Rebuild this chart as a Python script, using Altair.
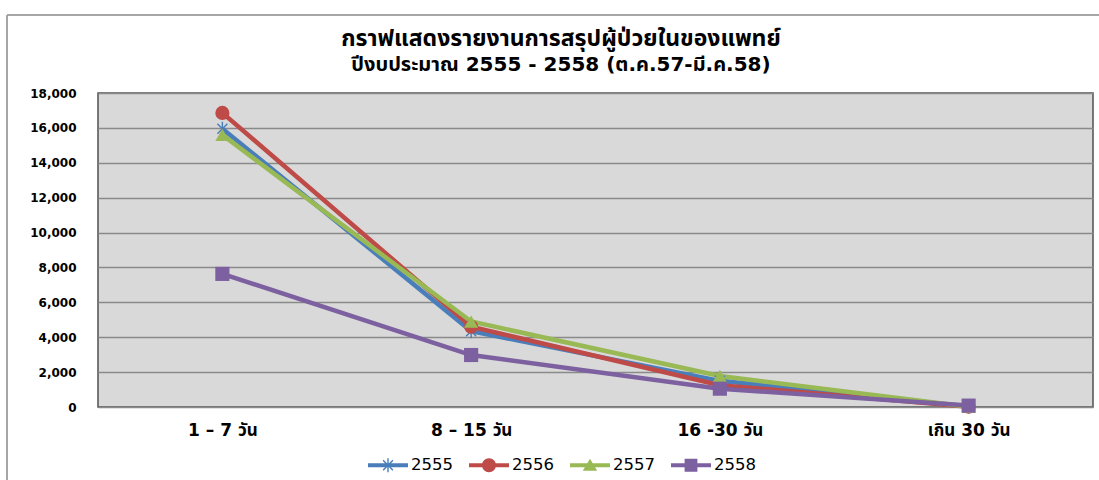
import altair as alt
import pandas as pd

# Patient stay categories (x axis) and the four fiscal-year series
categories = ["1 – 7 วัน", "8 – 15 วัน", "16 -30 วัน", "เกิน 30 วัน"]
years = ["2555", "2556", "2557", "2558"]
v2555 = [15950, 4350, 1500, 30]
v2556 = [16860, 4600, 1250, 20]
v2557 = [15600, 4900, 1780, 10]
v2558 = [7630, 2980, 1050, 80]
y_ticks = [0, 2000, 4000, 6000, 8000, 10000, 12000, 14000, 16000, 18000]

title_lines = [
    "กราฟแสดงรายงานการสรุปผู้ป่วยในของแพทย์",
    "ปีงบประมาณ 2555 - 2558 (ต.ค.57-มี.ค.58)",
]

colors = ["#4a7ebb", "#be4b48", "#98b954", "#7d60a0"]
FONT = "DejaVu Sans, Noto Sans Thai, Tahoma, sans-serif"

# marker shapes on the lines (unit square paths, scaled by size)
asterisk = (
    "M-0.1,-1H0.1V1H-0.1Z "
    "M-0.78,-0.64L-0.64,-0.78L0.78,0.64L0.64,0.78Z "
    "M0.64,-0.78L0.78,-0.64L-0.64,0.78L-0.78,0.64Z"
)
marker_shapes = [asterisk, "circle", "triangle-up", "square"]

# legend symbols: a line segment with the series marker in the middle
seg = "M-1,-0.1H1V0.1H-1Z "
seg_split = "M-1,-0.1H-0.3V0.1H-1Z M0.3,-0.1H1V0.1H0.3Z "
leg_asterisk = (
    seg
    + "M-0.035,-0.35H0.035V0.35H-0.035Z "
    + "M-0.27,-0.22L-0.22,-0.27L0.27,0.22L0.22,0.27Z "
    + "M0.22,-0.27L0.27,-0.22L-0.22,0.27L-0.27,0.22Z"
)
leg_circle = seg_split + "M0.35,0A0.35,0.35 0 1,1 -0.35,0A0.35,0.35 0 1,1 0.35,0Z"
leg_triangle = seg + "M0,-0.32L0.36,0.28H-0.36Z"
leg_square = seg_split + "M-0.32,-0.32H0.32V0.32H-0.32Z"
legend_shapes = [leg_asterisk, leg_circle, leg_triangle, leg_square]

rows = []
for yr, vals in zip(years, [v2555, v2556, v2557, v2558]):
    for c, v in zip(categories, vals):
        rows.append({"cat": c, "year": yr, "value": v})
df = pd.DataFrame(rows)

color_scale = alt.Scale(domain=years, range=colors)

base = alt.Chart(df).encode(
    x=alt.X(
        "cat:N",
        sort=categories,
        scale=alt.Scale(type="point", padding=0.5),
        axis=alt.Axis(
            title=None,
            labelAngle=0,
            labelFont=FONT,
            labelFontSize=17,
            labelFontWeight="bold",
            labelColor="black",
            labelPadding=15,
            ticks=False,
            domain=False,
        ),
    ),
    y=alt.Y(
        "value:Q",
        scale=alt.Scale(domain=[0, 18000], nice=False),
        axis=alt.Axis(
            title=None,
            values=y_ticks,
            format=",d",
            labelFont=FONT,
            labelFontSize=12,
            labelFontWeight="bold",
            labelColor="black",
            labelPadding=22,
            ticks=False,
            domain=False,
            gridColor="#8a8a8a",
            gridWidth=1.5,
        ),
    ),
)

lines = base.mark_line(strokeWidth=4.5).encode(
    color=alt.Color("year:N", scale=color_scale, legend=None),
    detail="year:N",
)

points = base.mark_point(filled=True, opacity=1, size=200).encode(
    color=alt.Color("year:N", scale=color_scale, legend=None),
    shape=alt.Shape(
        "year:N", scale=alt.Scale(domain=years, range=marker_shapes), legend=None
    ),
)

leg_props = dict(
    title=None,
    orient="none",
    legendX=270,
    legendY=352,
    direction="horizontal",
    columns=4,
    symbolSize=1600,
    symbolOpacity=1,
    symbolStrokeWidth=0,
    labelFont=FONT,
    labelFontSize=16.5,
    labelColor="black",
    labelOffset=3,
    columnPadding=16,
)

legend_layer = base.mark_point(filled=True, opacity=0).encode(
    color=alt.Color("year:N", scale=color_scale, legend=alt.Legend(**leg_props)),
    shape=alt.Shape(
        "year:N",
        scale=alt.Scale(domain=years, range=legend_shapes),
        legend=alt.Legend(**leg_props),
    ),
)

# thin frame around the whole chart (top and left edges)
frame_data = alt.Data(values=[{}])
frame_left = alt.Chart(frame_data).mark_rule(color="#a6a6a6", strokeWidth=2).encode(
    x=alt.value(-91), y=alt.value(-78), y2=alt.value(400)
)
frame_top = alt.Chart(frame_data).mark_rule(color="#a6a6a6", strokeWidth=2).encode(
    x=alt.value(-91), x2=alt.value(1010), y=alt.value(-78)
)

# two-line chart heading
def heading(line, y, size):
    return alt.Chart(alt.Data(values=[{"t": line}])).mark_text(
        font=FONT, fontSize=size, fontWeight="bold", color="black",
        align="center", baseline="middle",
    ).encode(text="t:N", x=alt.value(463), y=alt.value(y))

title1 = heading(title_lines[0], -54, 23)
title2 = heading(title_lines[1], -28, 20)

chart = (
    alt.layer(frame_left, frame_top, title1, title2, lines, points, legend_layer)
    .resolve_scale(shape="independent")
    .resolve_legend(color="independent", shape="independent")
    .properties(
        width=995,
        height=314,
        autosize=alt.AutoSizeParams(type="none"),
        padding={"left": 98, "top": 93, "right": 6, "bottom": 73},
        background="white",
    )
    .configure_view(fill="#d9d9d9", stroke="#505050", strokeWidth=1.5)
)

chart.save("out.html", embed_options={"renderer": "svg", "actions": False})
